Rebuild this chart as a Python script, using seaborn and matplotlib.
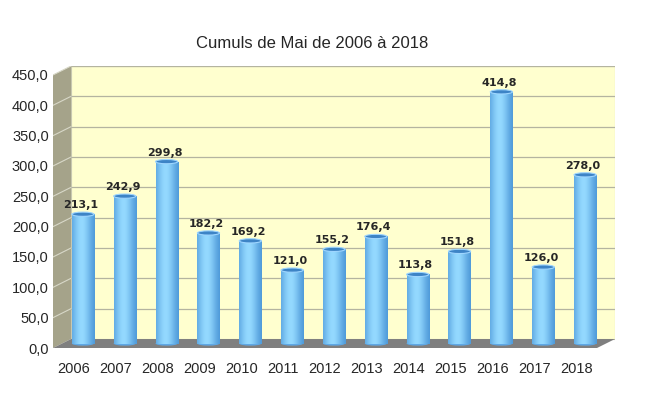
import matplotlib
matplotlib.use('Agg')
import matplotlib.pyplot as plt
import numpy as np
import pandas as pd
import seaborn as sns
from matplotlib.patches import Polygon, Rectangle, Ellipse

# Data
years = ['2006', '2007', '2008', '2009', '2010', '2011', '2012',
         '2013', '2014', '2015', '2016', '2017', '2018']
values = [213.1, 242.9, 299.8, 182.2, 169.2, 121.0, 155.2,
          176.4, 113.8, 151.8, 414.8, 126.0, 278.0]
y_ticks = [0, 50, 100, 150, 200, 250, 300, 350, 400, 450]

df = pd.DataFrame({'year': years, 'value': values})

# fake 3D depth (in data units)
dx, dy = 0.43, 14.8
bar_w = 0.53

sns.set_style('white')
plt.rcParams['font.family'] = ['Liberation Sans', 'DejaVu Sans']

fig = plt.figure(figsize=(6.45, 3.99), dpi=100)
W, H = 645, 399
ax = fig.add_axes([53 / W, 51 / H, (615 - 53) / W, (348 - 66) / H])

# walls and floor
ax.add_patch(Rectangle((-0.5 + dx, dy), 13, 450, facecolor='#ffffcf',
                       edgecolor='#c8c8b0', lw=0.8, zorder=0))
ax.add_patch(Polygon([(-0.5, 0), (-0.5 + dx, dy), (-0.5 + dx, 450 + dy), (-0.5, 450)],
                     closed=True, facecolor='#a5a38a', edgecolor='none', zorder=0))
ax.add_patch(Polygon([(-0.5, 0), (12.5, 0), (12.5 + dx, dy), (-0.5 + dx, dy)],
                     closed=True, facecolor='#7f7f7f', edgecolor='none', zorder=0))
for t in y_ticks[1:]:
    ax.plot([-0.5 + dx, 12.5 + dx], [t + dy, t + dy], color='#b4b4a0', lw=0.9, zorder=1)
    ax.plot([-0.5, -0.5 + dx], [t, t + dy], color='#d8d8c8', lw=0.8, zorder=1)

# bars
sns.barplot(data=df, x='year', y='value', ax=ax, width=bar_w,
            color='#8ecfff', saturation=1, zorder=2)

# cylinder shading
grad = np.linspace(0, 1, 64)
shade = np.exp(-((grad - 0.42) / 0.45) ** 2)
c_dark = np.array([0.25, 0.55, 0.82])
c_light = np.array([0.58, 0.85, 1.0])
img = (c_dark[None, :] + (c_light - c_dark)[None, :] * shade[:, None])[None, :, :]

for i, (p, v) in enumerate(zip(ax.patches[-len(values):], values)):
    x0 = p.get_x() + dx / 2
    p.set_x(x0)
    p.set_y(dy / 2)
    p.set_edgecolor('none')
    top = v + dy / 2
    im = ax.imshow(img, extent=[x0, x0 + bar_w, dy / 2, top], aspect='auto',
                   zorder=3, interpolation='bilinear')
    im.set_clip_path(p)
    ax.add_patch(Ellipse((x0 + bar_w / 2, top), bar_w, 7, facecolor='#3d84c6',
                         edgecolor='#9fd6ff', lw=0.8, zorder=4))
    ax.add_patch(Ellipse((x0 + bar_w / 2, dy / 2), bar_w, 7, facecolor='#5ea8e6',
                         edgecolor='none', zorder=2.5))
    ax.text(x0 + bar_w / 2 - 0.05, top + 15, f'{v:.1f}'.replace('.', ','),
            ha='center', va='center', fontsize=8, fontweight='bold',
            family='DejaVu Sans', zorder=5)

ax.set_xlim(-0.5, 12.5 + dx)
ax.set_ylim(0, 450 + dy)
ax.set_yticks(y_ticks)
ax.set_yticklabels([f'{t:.1f}'.replace('.', ',') for t in y_ticks], fontsize=10.5)
ax.set_xticks(range(len(years)))
ax.set_xticklabels(years, fontsize=10.5)
ax.tick_params(axis='both', length=0, pad=3)
ax.tick_params(axis='x', pad=10)
ax.set_xlabel('')
ax.set_ylabel('')
for s in ax.spines.values():
    s.set_visible(False)

fig.text(312 / W, 1 - 44 / H, 'Cumuls de Mai de 2006 à 2018', ha='center',
         va='center', fontsize=12)

fig.savefig('out.png', dpi=100)
